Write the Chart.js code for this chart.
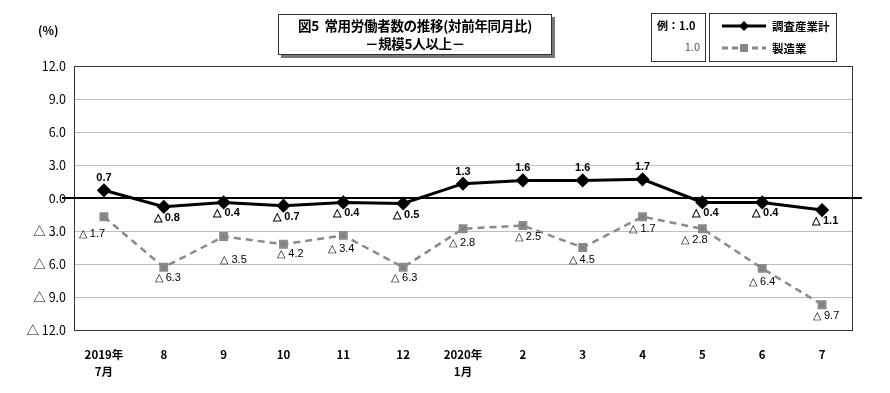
<!DOCTYPE html>
<html>
<head>
<meta charset="utf-8">
<script src="https://cdn.jsdelivr.net/npm/chart.js@4.4.1/dist/chart.umd.min.js"></script>
<style>
  body { margin: 0; background: #fff; }
  #wrap { position: relative; width: 890px; height: 393px; font-family: "Noto Sans CJK JP", sans-serif; }
  #chart { position: absolute; left: 0; top: 0; }
  .box { position: absolute; background: #fff; border: 1px solid #333; }
  #title { left: 278px; top: 14px; width: 272px; height: 38px; text-align: center; font-weight: bold; font-size: 13.5px; line-height: 18px; box-shadow: 3px 3px 0 #777; padding-top: 1px; letter-spacing: -0.3px; }
  #rei { left: 651px; top: 13px; width: 53px; height: 47px; font-size: 11px; }
  #leg { left: 709px; top: 13px; width: 126px; height: 47px; font-size: 11.5px; font-weight: bold; }
  #unit { position: absolute; left: 38px; top: 21px; font-size: 12px; font-weight: bold; }
</style>
</head>
<body>
<div id="wrap">
  <canvas id="chart" width="890" height="393"></canvas>
  <div id="unit">(%)</div>
  <div class="box" id="title">図5&nbsp;&nbsp;常用労働者数の推移(対前年同月比)<br>－規模5人以上－</div>
  <div class="box" id="rei">
    <div style="position:absolute;left:5px;top:3px;font-weight:bold;">例：1.0</div>
    <div style="position:absolute;right:5px;top:24px;color:#555;">1.0</div>
  </div>
  <div class="box" id="leg">
    <svg width="50" height="47" style="position:absolute;left:10px;top:0;">
      <line x1="2" y1="12" x2="46" y2="12" stroke="#000" stroke-width="3"/>
      <polygon points="24,7 29,12 24,17 19,12" fill="#000"/>
      <line x1="2" y1="34" x2="46" y2="34" stroke="#888" stroke-width="3" stroke-dasharray="6,4"/>
      <rect x="20" y="30" width="8" height="8" fill="#888"/>
    </svg>
    <div style="position:absolute;left:62px;top:4px;">調査産業計</div>
    <div style="position:absolute;left:62px;top:26px;">製造業</div>
  </div>
</div>
<script>
// 2019年7月 ～ 2020年7月
const months = [['2019年', '7月'], '8', '9', '10', '11', '12', ['2020年', '1月'], '2', '3', '4', '5', '6', '7'];
const allIndustries = [0.7, -0.8, -0.4, -0.7, -0.4, -0.5, 1.3, 1.6, 1.6, 1.7, -0.4, -0.4, -1.1];
const manufacturing = [-1.7, -6.3, -3.5, -4.2, -3.4, -6.3, -2.8, -2.5, -4.5, -1.7, -2.8, -6.4, -9.7];
const yTicks = [-12, -9, -6, -3, 0, 3, 6, 9, 12];

function fmt(v) {
  if (v < 0) return '△ ' + (-v).toFixed(1);
  return v.toFixed(1);
}

// nudges for the gray labels, x / y from the point
const mfgNudge = [[-12, 17], [4, 11], [10, 23], [7, 10], [-2, 14], [1, 11], [-1, 14], [5, 11], [-1, 12], [0, 12], [-8, 11], [0, 14], [4, 11]];

const extras = {
  id: 'extras',
  beforeDatasetsDraw(chart) {
    const { ctx, chartArea: a, scales: { y } } = chart;
    ctx.save();
    ctx.strokeStyle = '#333';
    ctx.lineWidth = 1;
    ctx.strokeRect(a.left + 0.5, a.top + 0.5, a.right - a.left, a.bottom - a.top);
    const y0 = Math.round(y.getPixelForValue(0));
    ctx.strokeStyle = '#000';
    ctx.lineWidth = 2;
    ctx.beginPath();
    ctx.moveTo(a.left - 12, y0);
    ctx.lineTo(a.right + 10, y0);
    ctx.stroke();
    ctx.restore();
  },
  afterDatasetsDraw(chart) {
    const { ctx } = chart;
    ctx.save();
    ctx.textAlign = 'center';
    ctx.textBaseline = 'middle';
    const m0 = chart.getDatasetMeta(0);
    ctx.fillStyle = '#000';
    ctx.font = 'bold 11px "Liberation Sans", sans-serif';
    m0.data.forEach((p, i) => {
      const v = allIndustries[i];
      const dy = v >= 0 ? -12 : 11;
      ctx.fillText(fmt(v), p.x + (v >= 0 ? 0 : 3), p.y + dy);
    });
    const m1 = chart.getDatasetMeta(1);
    ctx.font = '11px "Liberation Sans", sans-serif';
    m1.data.forEach((p, i) => {
      const v = manufacturing[i];
      ctx.fillText(fmt(v), p.x + mfgNudge[i][0], p.y + mfgNudge[i][1]);
    });
    ctx.restore();
  }
};

new Chart(document.getElementById('chart'), {
  type: 'line',
  data: {
    labels: months,
    datasets: [
      {
        label: '調査産業計',
        data: allIndustries,
        borderColor: '#000',
        backgroundColor: '#000',
        borderWidth: 3,
        pointStyle: 'rectRot',
        pointRadius: 5,
        pointHoverRadius: 5,
        tension: 0
      },
      {
        label: '製造業',
        data: manufacturing,
        borderColor: '#8a8a8a',
        backgroundColor: '#808080',
        borderWidth: 2.5,
        borderDash: [7, 5],
        pointStyle: 'rect',
        pointRadius: 4.5,
        pointHoverRadius: 4.5,
        tension: 0
      }
    ]
  },
  options: {
    responsive: false,
    animation: false,
    layout: { padding: { top: 66, right: 38, left: 0, bottom: 0 } },
    plugins: {
      legend: { display: false },
      tooltip: { enabled: false }
    },
    scales: {
      x: {
        offset: true,
        grid: { display: false },
        border: { color: '#333' },
        ticks: {
          color: '#000',
          padding: 8,
          maxRotation: 0,
          autoSkip: false,
          font: { family: '"Noto Sans CJK JP", sans-serif', size: 11.5, weight: 'bold', lineHeight: 1.5 }
        },
        afterFit(s) { s.height = 63; }
      },
      y: {
        min: -12,
        max: 12,
        afterBuildTicks(s) { s.ticks = yTicks.map(v => ({ value: v })); },
        grid: { color: '#bdbdbd', drawTicks: false },
        border: { color: '#333' },
        ticks: {
          color: '#000',
          padding: 8,
          callback: v => fmt(v),
          font: { family: '"Noto Sans CJK JP", sans-serif', size: 12.5 }
        },
        afterFit(s) { s.width = 74; }
      }
    }
  },
  plugins: [extras]
});
</script>
</body>
</html>
